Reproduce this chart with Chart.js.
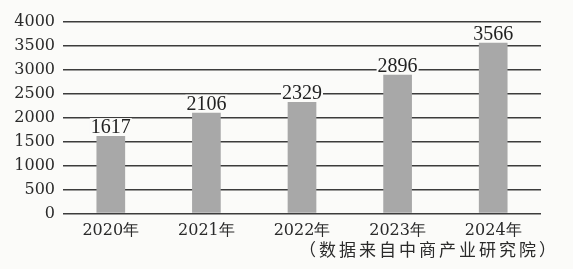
<!DOCTYPE html>
<html>
<head>
<meta charset="utf-8">
<script src="https://cdn.jsdelivr.net/npm/chart.js@4"></script>
<style>
  html, body { margin: 0; padding: 0; background: #fbfbf9; }
  #wrap { width: 573px; height: 269px; }
</style>
</head>
<body>
<div id="wrap"><canvas id="barChart" width="573" height="269"></canvas></div>
<script>
const years = ['2020年', '2021年', '2022年', '2023年', '2024年'];
const values = [1617, 2106, 2329, 2896, 3566];
const yTicks = [0, 500, 1000, 1500, 2000, 2500, 3000, 3500, 4000];
const sourceNote = '（数据来自中商产业研究院）';

const bg = '#fbfbf9';
const serif = "'DejaVu Serif', 'Liberation Serif', serif";

const background = {
    id: 'background',
    beforeDraw(chart) {
        const c = chart.ctx;
        c.save();
        c.fillStyle = bg;
        c.fillRect(0, 0, chart.width, chart.height);
        c.restore();
    }
};

// numbers above the bars, knocked out of the grid lines
const valueLabels = {
    id: 'valueLabels',
    afterDraw(chart) {
        const c = chart.ctx;
        const meta = chart.getDatasetMeta(0);
        c.save();
        c.font = "20px 'Liberation Serif', serif";
        c.textAlign = 'center';
        c.textBaseline = 'alphabetic';
        meta.data.forEach((bar, i) => {
            const txt = String(values[i]);
            const w = c.measureText(txt).width;
            const base = bar.y - 3;
            c.fillStyle = bg;
            c.fillRect(bar.x - w / 2 - 1, base - 15, w + 2, 16);
            c.fillStyle = '#222';
            c.fillText(txt, bar.x, base);
        });
        c.restore();
    }
};

const sourceText = {
    id: 'sourceText',
    afterDraw(chart) {
        const c = chart.ctx;
        c.save();
        c.font = "17px 'Noto Sans CJK SC', sans-serif";
        c.letterSpacing = '3px';
        c.fillStyle = '#2a2a2a';
        c.textAlign = 'left';
        c.textBaseline = 'middle';
        c.fillText(sourceNote, 299, 250);
        c.restore();
    }
};

const ctx = document.getElementById('barChart').getContext('2d');
const chart = new Chart(ctx, {
    type: 'bar',
    data: {
        labels: years,
        datasets: [{
            data: values,
            backgroundColor: '#a8a8a8',
            borderWidth: 0,
            categoryPercentage: 1,
            barPercentage: 0.3
        }]
    },
    options: {
        responsive: false,
        animation: false,
        layout: {
            padding: { top: 22, right: 32, bottom: 0, left: 0 }
        },
        plugins: {
            legend: { display: false },
            tooltip: { enabled: false }
        },
        scales: {
            x: {
                grid: { display: false, drawTicks: false },
                border: { display: false },
                ticks: {
                    color: '#2a2a2a',
                    font: { family: serif, size: 16 },
                    padding: 8,
                    maxRotation: 0
                },
                afterFit(scale) { scale.height = 55.5; }
            },
            y: {
                min: 0,
                max: 4000,
                z: 1,
                afterBuildTicks(scale) {
                    scale.ticks = yTicks.map(v => ({ value: v }));
                },
                grid: {
                    color: '#3c3c3c',
                    lineWidth: 1.4,
                    drawTicks: false
                },
                border: { display: false },
                ticks: {
                    color: '#2a2a2a',
                    font: { family: serif, size: 16 },
                    padding: 8,
                    callback: v => String(v)
                },
                afterFit(scale) { scale.width = 63; }
            }
        }
    },
    plugins: [background, valueLabels, sourceText]
});
</script>
</body>
</html>
